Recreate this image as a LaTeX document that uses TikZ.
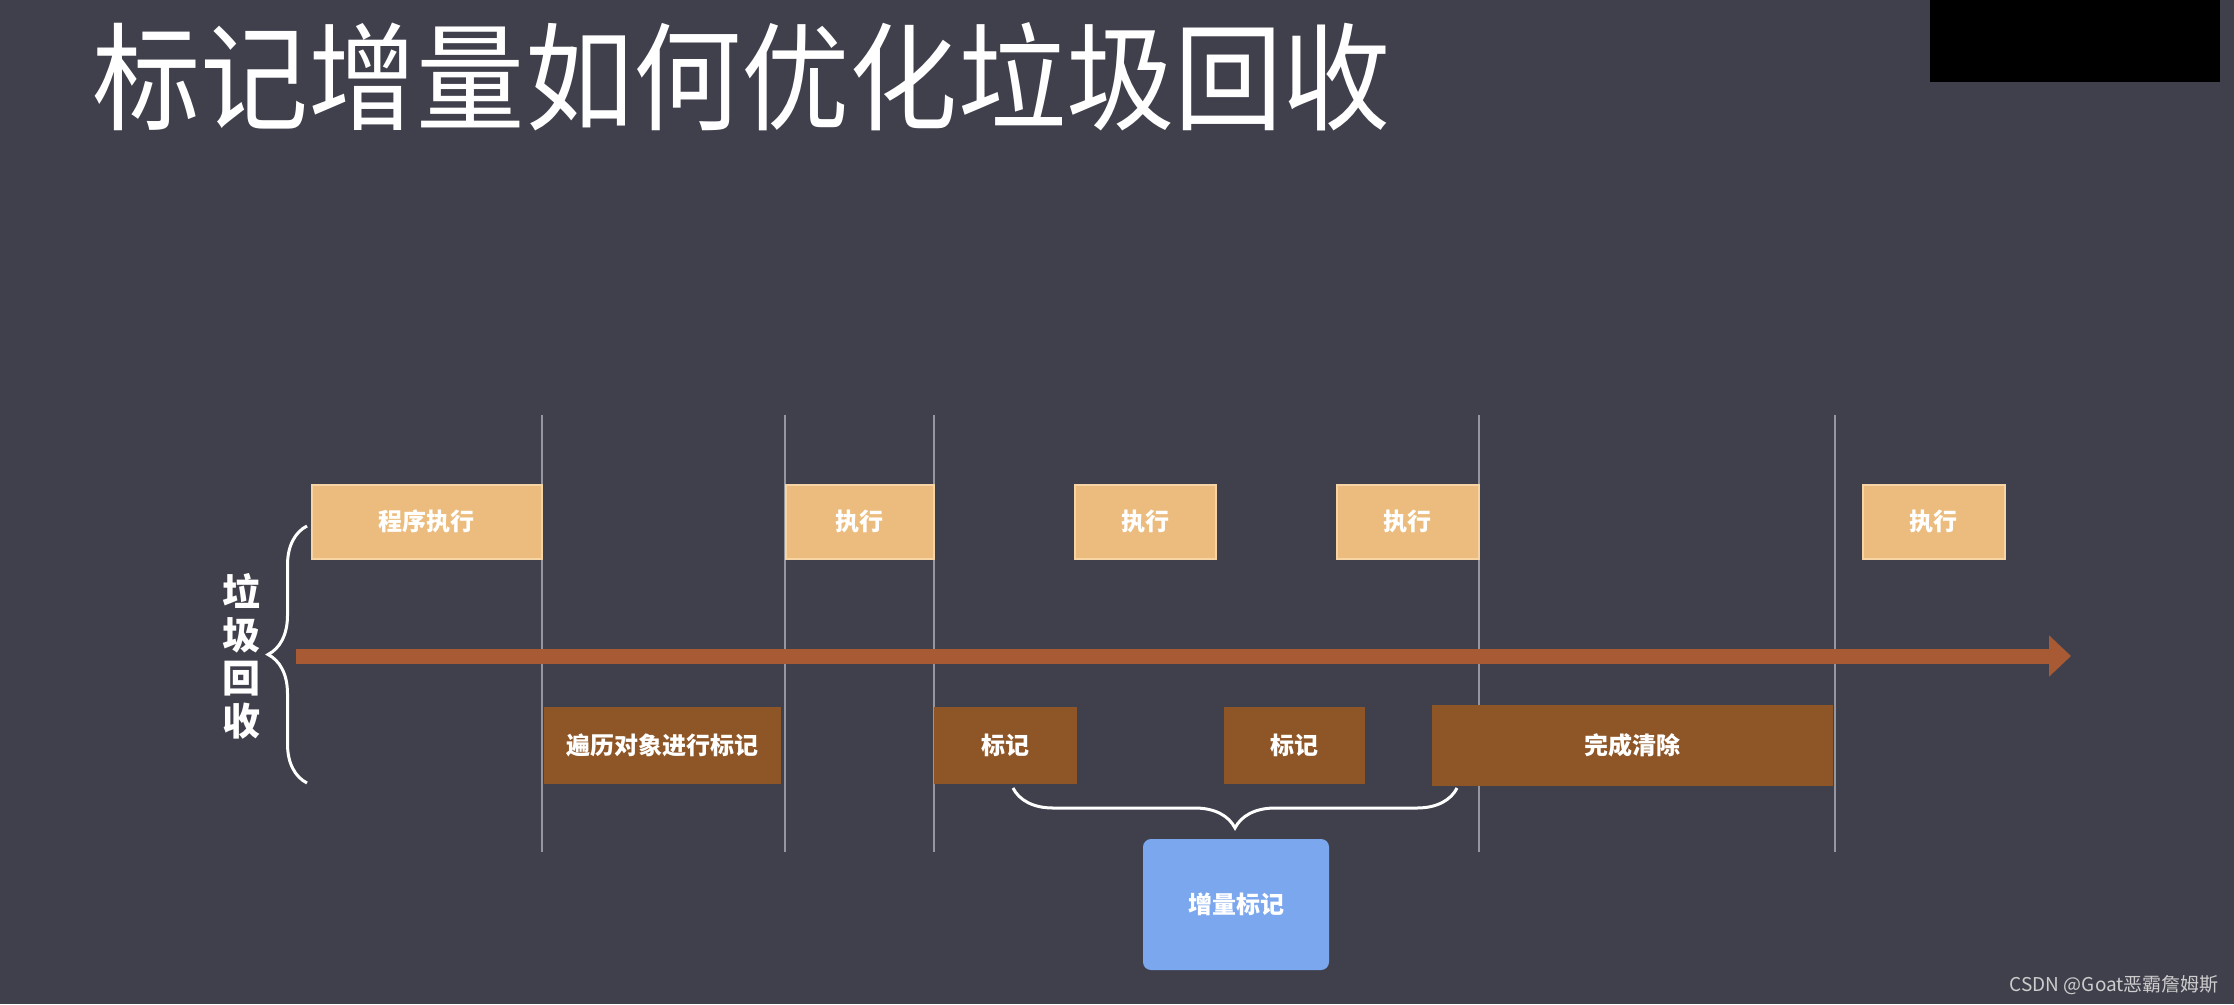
\documentclass[tikz,border=0pt]{standalone}
\usepackage{fontspec}
\setmainfont{Noto Sans CJK SC}
\newfontfamily\titlefont{Noto Sans CJK SC}[FakeStretch=0.925]
\usepackage{xcolor}
\usetikzlibrary{arrows.meta,decorations.pathreplacing}
\definecolor{slide}{RGB}{64,64,76}
\definecolor{runfill}{RGB}{235,188,126}
\definecolor{runedge}{RGB}{246,212,164}
\definecolor{gcfill}{RGB}{142,85,39}
\definecolor{incfill}{RGB}{123,167,238}
\definecolor{axiscol}{RGB}{168,90,53}
\definecolor{phasecol}{RGB}{150,150,160}
\definecolor{wmark}{RGB}{205,205,205}

\begin{document}
\begin{tikzpicture}[
  x=1pt, y=-1pt,
  runbox/.style={fill=runfill, draw=runedge, line width=1.5pt, anchor=north west, minimum height=74pt, inner sep=0pt, text=white, font=\bfseries\fontsize{24}{28}\selectfont},
  gcbox/.style={fill=gcfill, anchor=north west, minimum height=77pt, inner sep=0pt, text=white, font=\bfseries\fontsize{24}{28}\selectfont},
  incbox/.style={fill=incfill, rounded corners=8pt, minimum width=186pt, minimum height=131pt, inner sep=0pt, text=white, font=\bfseries\fontsize{24}{28}\selectfont},
  phase/.style={draw=phasecol, line width=1.5pt},
  timeline/.style={draw=axiscol, line width=15pt, -{Triangle[length=22pt,width=40pt]}},
  curly/.style={draw=white, line width=3pt, decorate, decoration={brace, amplitude=40pt}},
]
\fill[slide] (0,0) rectangle (2234,1004);
\useasboundingbox (0,0) rectangle (2234,1004);
\fill[black] (1930,0) rectangle (2220,82);

\node[anchor=west, inner sep=0pt, text=white, font=\titlefont\fontsize{117}{120}\selectfont] (title) at (92,77) {标记增量如何优化垃圾回收};

% phase separators
\foreach \x in {542,785,934,1479,1835}
  \draw[phase] (\x,415) -- (\x,852);

% time axis
\coordinate (tstart) at (296,656);
\coordinate (tend) at (2071,656);
\draw[timeline] (tstart) -- (tend);

% program runs
\node[runbox, minimum width=230pt] (run1) at (311,484) {程序执行};
\node[runbox, minimum width=148pt] (run2) at (785,484) {执行};
\node[runbox, minimum width=141pt] (run3) at (1074,484) {执行};
\node[runbox, minimum width=142pt] (run4) at (1336,484) {执行};
\node[runbox, minimum width=142pt] (run5) at (1862,484) {执行};

% gc work
\node[gcbox, minimum width=237pt] (trace) at (544,707) {遍历对象进行标记};
\node[gcbox, minimum width=143pt] (mark1) at (934,707) {标记};
\node[gcbox, minimum width=141pt] (mark2) at (1224,707) {标记};
\node[gcbox, minimum width=401pt, minimum height=81pt] (clean) at (1432,705) {完成清除};

% left brace and label
\coordinate (gctop) at (307,526);
\coordinate (gcbot) at (307,783);
\draw[curly, decoration={amplitude=39pt}] (gcbot) -- (gctop);
\node[font=\bfseries\fontsize{38}{43}\selectfont, text=white, align=center, inner sep=0pt] (gclabel) at (241,656) {垃\\圾\\回\\收};

% incremental brace
\coordinate (incl) at (1013,788);
\coordinate (incr) at (1457,788);
\draw[curly] (incr) -- (incl);
\node[incbox] (inc) at (1236,904.5) {增量标记};

\node[anchor=east, inner sep=0pt, text=wmark, font=\fontsize{19}{22}\selectfont] (credit) at (2219,985) {CSDN @Goat恶霸詹姆斯};
\end{tikzpicture}
\end{document}
